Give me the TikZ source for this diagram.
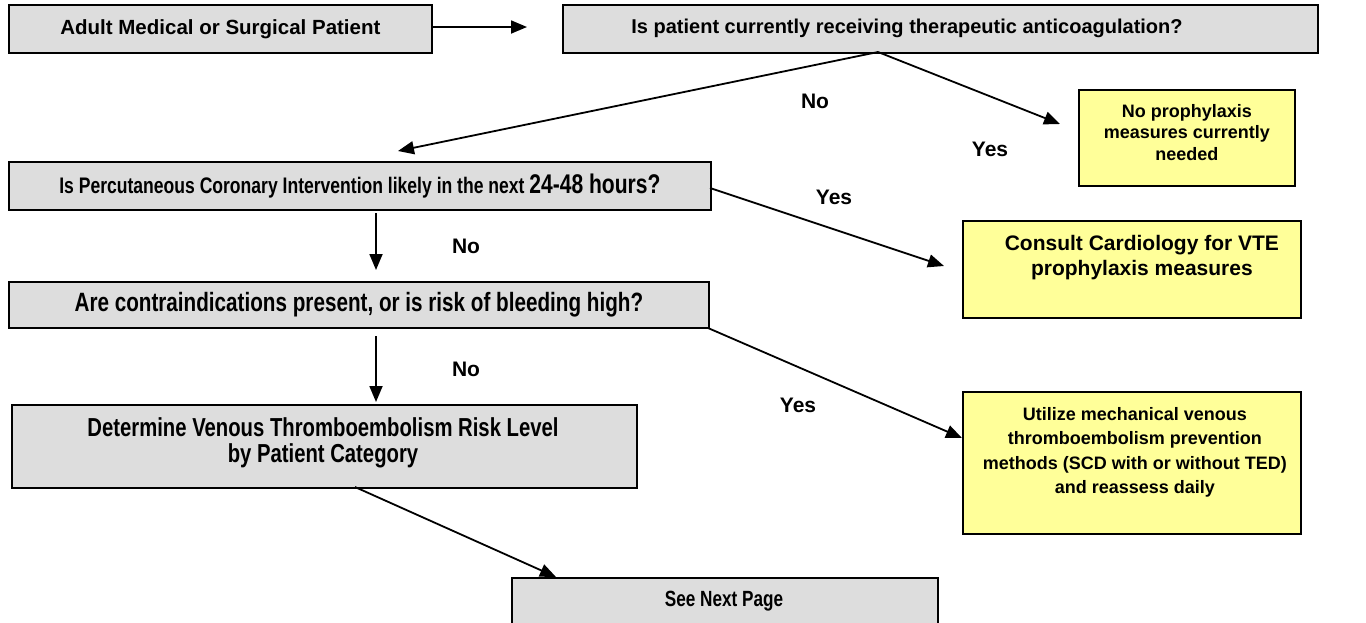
\documentclass[tikz,border=0pt]{standalone}
\usepackage{fontspec}
\setmainfont{Liberation Sans}
\newfontfamily\narrowfont[FakeStretch=0.78]{Liberation Sans}
\usetikzlibrary{arrows.meta}
\definecolor{boxgray}{HTML}{DDDDDD}
\definecolor{boxyellow}{HTML}{FFFF99}
\tikzset{
  x=1pt, y=-1pt,
  graybox/.style={draw=black, line width=1.8pt, fill=boxgray, rectangle, anchor=north west, inner sep=0pt, align=center},
  yellowbox/.style={draw=black, line width=1.8pt, fill=boxyellow, rectangle, anchor=north west, inner sep=0pt, align=center},
  ytext/.style={align=center, inner sep=0pt, anchor=north},
  ctext/.style={align=center, inner sep=0pt, anchor=center},
  conn/.style={line width=1.8pt, -{Triangle[length=16pt, width=13pt]}},
  lbl/.style={font=\bfseries\fontsize{21}{24}\selectfont, inner sep=0pt},
}
\begin{document}
\begin{tikzpicture}
\useasboundingbox (0,0) rectangle (1366,622);
% gray boxes
\node[graybox, minimum width=423pt, minimum height=48pt] (b1) at (8,4)
  {\fontsize{20.5}{24}\selectfont\bfseries Adult Medical or Surgical Patient};
\node[graybox, minimum width=755pt, minimum height=48pt] (b2) at (562,4) {};
\node[ctext, font=\bfseries\fontsize{20}{24}\selectfont] (t2) at (907,28)
  {Is patient currently receiving therapeutic anticoagulation?};
\node[graybox, minimum width=702pt, minimum height=48pt] (b4) at (8,161)
  {\narrowfont\bfseries\fontsize{22.5}{26}\selectfont Is Percutaneous Coronary Intervention likely in the next {\fontsize{27}{30}\selectfont 24-48 hours?}};
\node[graybox, minimum width=700pt, minimum height=46pt] (b6) at (8,281)
  {\narrowfont\bfseries\fontsize{26.5}{28}\selectfont Are contraindications present, or is risk of bleeding high?};
\node[graybox, minimum width=625pt, minimum height=83pt] (b7) at (11,404) {};
\node[ctext, font=\narrowfont\bfseries\fontsize{26}{26}\selectfont] (t7) at (323,443)
  {Determine Venous Thromboembolism Risk Level\\by Patient Category};
\node[graybox, minimum width=426pt, minimum height=50pt] (b9) at (511,577) {};
\node[ctext, font=\narrowfont\bfseries\fontsize{22}{24}\selectfont] (t9) at (724,601) {See Next Page};
% yellow boxes
\node[yellowbox, minimum width=216pt, minimum height=96pt] (b3) at (1078,89) {};
\node[ytext, font=\bfseries\fontsize{18}{21.5}\selectfont] (t3) at ([yshift=-15pt]b3.north)
  {No prophylaxis\\measures currently\\needed};
\node[yellowbox, minimum width=338pt, minimum height=97pt] (b5) at (962,220) {};
\node[ytext, font=\bfseries\fontsize{21}{25}\selectfont] (t5) at ([xshift=10pt, yshift=-15pt]b5.north)
  {Consult Cardiology for VTE\\prophylaxis measures};
\node[yellowbox, minimum width=338pt, minimum height=142pt] (b8) at (962,391) {};
\node[ytext, font=\bfseries\fontsize{18}{24.5}\selectfont] (t8) at ([xshift=3pt, yshift=-16pt]b8.north)
  {Utilize mechanical venous\\thromboembolism prevention\\methods (SCD with or without TED)\\and reassess daily};
% connector end points
\coordinate (a1) at (527,27);
\coordinate (apex) at (878,52);
\coordinate (noTip) at (398,151);
\coordinate (yesTip) at (1060,124);
\coordinate (b4r) at (710,188);
\coordinate (b5tip) at (944,266);
\coordinate (b4d) at (376,213);
\coordinate (b4dTip) at (376,270);
\coordinate (b6r) at (708,328);
\coordinate (b8tip) at (962,438);
\coordinate (b6d) at (376,336);
\coordinate (b6dTip) at (376,402);
\coordinate (b7s) at (355,487);
\coordinate (b9tip) at (556,577);
% connectors
\draw[conn] (b1.east |- a1) -- (a1);
\draw[conn] (apex) -- (noTip);
\draw[conn] (apex) -- (yesTip);
\draw[conn] (b4r) -- (b5tip);
\draw[conn] (b4d) -- (b4dTip);
\draw[conn] (b6r) -- (b8tip);
\draw[conn] (b6d) -- (b6dTip);
\draw[conn] (b7s) -- (b9tip);
% labels
\node[lbl] (lno1) at (815,101) {No};
\node[lbl] (lyes1) at (990,149) {Yes};
\node[lbl] (lyes2) at (834,197) {Yes};
\node[lbl] (lno2) at (466,246) {No};
\node[lbl] (lno3) at (466,369) {No};
\node[lbl] (lyes3) at (798,405) {Yes};
\end{tikzpicture}
\end{document}
